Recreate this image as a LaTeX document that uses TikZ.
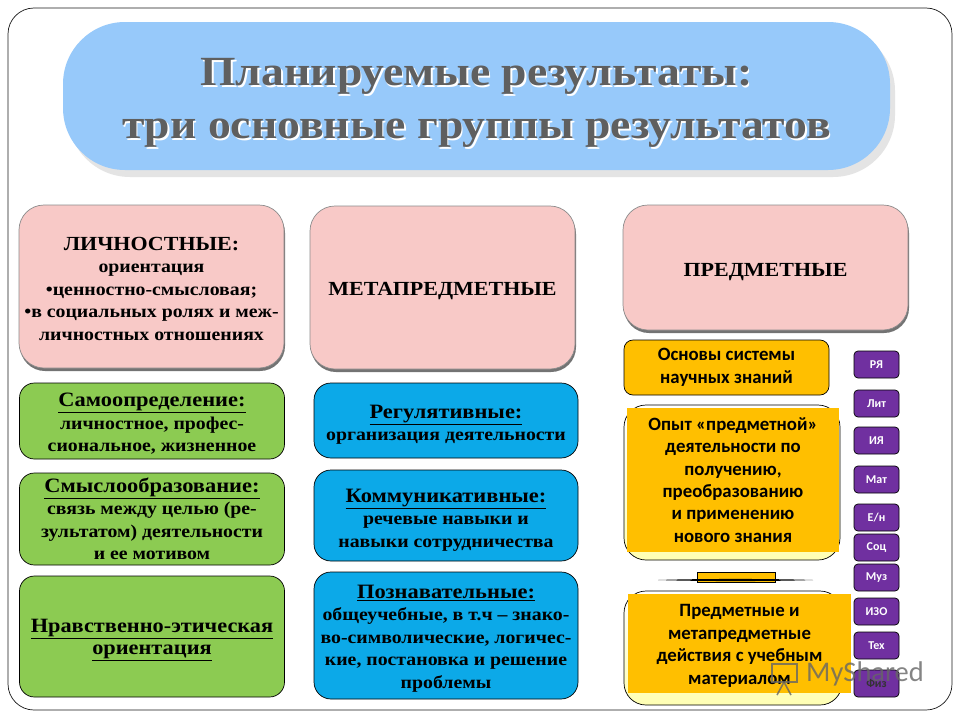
\documentclass[tikz,border=0pt]{standalone}
\usepackage{fontspec}
\setmainfont{Liberation Serif}[FakeStretch=1.1]
\newfontfamily\bodyfont{Carlito}
\usetikzlibrary{positioning,shadows}

\definecolor{framecol}{HTML}{1A1A1A}
\definecolor{titleblue}{HTML}{97C9FA}
\definecolor{titlegray}{HTML}{5F5F5F}
\definecolor{pinkfill}{HTML}{F8C9C7}
\definecolor{greenfill}{HTML}{8CCB52}
\definecolor{bluefill}{HTML}{0CA9E8}
\definecolor{amberfill}{HTML}{FFBF00}
\definecolor{purplefill}{HTML}{7030A0}

\newcommand{\lightback}[1]{\rlap{\kern1.6pt\raisebox{-1.6pt}{\color{white}#1}}#1}
\newcommand{\lift}[1]{\rule{0pt}{#1pt}}

\tikzset{
    basebox/.style={rectangle, draw=black, line width=0.7pt, align=center, inner sep=0pt, outer sep=0pt},
    pinkbox/.style={basebox, draw=black!45, fill=pinkfill, rounded corners=25pt,
        minimum height=163pt, font=\bfseries\fontsize{18}{22.5}\selectfont,
        drop shadow={shadow xshift=1pt, shadow yshift=-3pt, fill=black, opacity=.55}},
    greenbox/.style={basebox, fill=greenfill, rounded corners=15pt, minimum width=265pt,
        font=\bfseries\fontsize{18}{22.5}\selectfont},
    bluebox/.style={basebox, fill=bluefill, rounded corners=17pt, minimum width=264pt,
        font=\bfseries\fontsize{18}{22.5}\selectfont},
    amberbox/.style={rectangle, fill=amberfill, align=center, inner sep=0pt,
        font=\bodyfont\bfseries\fontsize{18.8}{22.4}\selectfont},
    outerbox/.style={basebox, top color=white, bottom color=yellow!30, rounded corners=22pt},
    tagbox/.style={basebox, fill=purplefill, text=white, rounded corners=4pt, minimum width=45pt,
        minimum height=27pt, font=\bodyfont\bfseries\fontsize{12}{14}\selectfont}
}
\newcommand{\headline}[1]{{\fontsize{20.4}{22.5}\selectfont\underline{#1}}}

\begin{document}
\begin{tikzpicture}[x=1pt, y=-1pt]
    \useasboundingbox (0,0) rectangle (960,720);

    \node (frame) [basebox, draw=framecol, fill=white, rounded corners=26pt,
        minimum width=944pt, minimum height=702pt] at (480,359) {};

    \node (title) [rectangle, fill=titleblue, rounded corners=62pt, minimum width=827pt,
        minimum height=148pt, align=center, text=titlegray,
        font=\bfseries\fontsize{41.5}{53}\selectfont,
        drop shadow={shadow xshift=5pt, shadow yshift=-7pt, fill=black!15, opacity=.7}]
        at (476.5,96) {\lift{43}\lightback{Планируемые результаты:}\\\lightback{три основные группы результатов}};

    % left column
    \node (lichn) [pinkbox, minimum width=265pt] at (151.5,286.5)
        {\lift{18}{\fontsize{20}{24}\selectfont ЛИЧНОСТНЫЕ:}\\ориентация\\•ценностно-смысловая;\\
        •в социальных ролях и меж-\\личностных отношениях};
    \node (samo) [greenbox, minimum height=76pt] at (152,421)
        {\lift{19}\headline{Самоопределение:}\\личностное, профес-\\сиональное, жизненное};
    \node (smysl) [greenbox, minimum height=92pt, below=14pt of samo]
        {\headline{Смыслообразование:}\\связь между целью (ре-\\зультатом) деятельности\\и ее мотивом};
    \node (nrav) [greenbox, minimum height=121pt, below=11pt of smysl]
        {\lift{20}{\fontsize{20.3}{26}\selectfont\underline{Нравственно-этическая}}\\
        {\fontsize{20.3}{26}\selectfont\underline{ориентация}}};

    % middle column
    \node (meta) [pinkbox, minimum width=265pt] at (442.5,287.5)
        {\lift{20}{\fontsize{20}{24}\selectfont МЕТАПРЕДМЕТНЫЕ}};
    \node (regul) [bluebox, minimum height=75pt] at (446,420.5)
        {\lift{22}\headline{Регулятивные:}\\организация деятельности};
    \node (kommun) [bluebox, minimum height=91pt, below=12pt of regul]
        {\lift{22}\headline{Коммуникативные:}\\речевые навыки и\\навыки сотрудничества};
    \node (poznav) [bluebox, minimum height=127pt, below=11pt of kommun]
        {\lift{19}\headline{Познавательные:}\\общеучебные, в т.ч -- знако-\\во-символические, логичес-\\кие, постановка и решение\\проблемы};

    % right column
    \node (pred) [pinkbox, minimum width=285pt, minimum height=125pt] at (765.5,267.5)
        {\lift{22}{\fontsize{20}{24}\selectfont ПРЕДМЕТНЫЕ}};
    \node (osnov) [basebox, fill=amberfill, rounded corners=9pt, minimum width=205pt, minimum height=55pt,
        font=\bodyfont\bfseries\fontsize{18.8}{23.5}\selectfont] at (726.5,367.5)
        {Основы системы\\научных знаний};
    \node (opytback) [outerbox, minimum width=216pt, minimum height=155pt] at (732,482.5) {};
    \node (opyt) [amberbox, minimum width=212pt, minimum height=144pt] at (733,480)
        {Опыт «предметной»\\деятельности по\\получению,\\преобразованию\\и применению\\нового знания};
    \node (deistback) [outerbox, minimum width=218pt, minimum height=114pt] at (733,648) {};
    \node (deist) [amberbox, minimum width=223pt, minimum height=99pt] at (739.5,643.5)
        {\lift{17}Предметные и\\метапредметные\\действия с учебным\\материалом};

    % piece between the two amber blocks
    \coordinate (lensl) at (658,580);
    \coordinate (lensr) at (813,580);
    \node (bridge) [basebox, fill=amberfill, minimum width=78pt, minimum height=10pt] at (736,577) {};
    \fill[black] (lensl) .. controls (700,578.6) and (771,578.6) .. (lensr)
        .. controls (771,581.4) and (700,581.4) .. (lensl);

    % subject tags
    \node (rya) [tagbox] at (876.5,364.5) {РЯ};
    \node (lit) [tagbox, below=12pt of rya] {Лит};
    \node (iya) [tagbox, below=10pt of lit] {ИЯ};
    \node (mat) [tagbox, below=12pt of iya] {Мат};
    \node (en) [tagbox, below=11pt of mat] {Е/н};
    \node (soc) [tagbox, below=3pt of en] {Соц};
    \node (muz) [tagbox, below=3pt of soc] {Муз};
    \node (izo) [tagbox, below=7pt of muz] {ИЗО};
    \node (teh) [tagbox, below=7pt of izo] {Тех};
    \node (fiz) [tagbox, text=black!80, below=11pt of teh] {Физ};

    % watermark
    \node (mark) [text=black!60, opacity=.8, inner sep=0pt,
        font=\bodyfont\fontsize{28.5}{32}\selectfont] at (865,674) {MyShared};
    \draw[black!60, opacity=.8, line width=1.6pt] (772,664) rectangle (797,682)
        (784,682) -- (777,695) (784,682) -- (791,695);
\end{tikzpicture}
\end{document}
